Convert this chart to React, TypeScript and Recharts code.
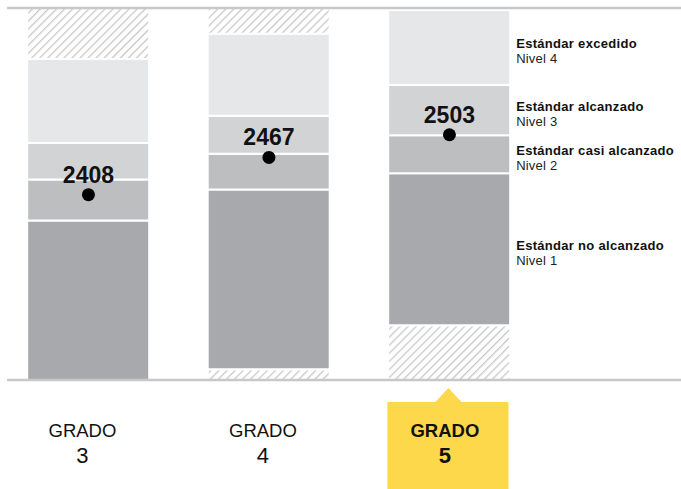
import { ComposedChart, Bar, XAxis, YAxis, Scatter, ReferenceLine, LabelList } from 'recharts';

const grades = [3, 4, 5];
const highlightGrade = 5;
const scaleMin = 2114;
const scaleMax = 2704;
const rangeMin = [2114, 2131, 2201];
const level2Cut = [2367, 2416, 2442];
const level3Cut = [2432, 2473, 2502];
const level4Cut = [2490, 2533, 2582];
const rangeMax = [2623, 2663, 2701];
const meanScores = [2408, 2467, 2503];
const levelNames = ['Estándar no alcanzado', 'Estándar casi alcanzado', 'Estándar alcanzado', 'Estándar excedido'];
const levelTags = ['Nivel 1', 'Nivel 2', 'Nivel 3', 'Nivel 4'];

const FONT = '"Liberation Sans", Arial, sans-serif';
const HATCH = 'url(#hatch)';

// stacked from the bottom of the scale upward
const data = grades.map((grade, i) => ({
  grade,
  hatchLow: rangeMin[i] - scaleMin,
  l1: level2Cut[i] - rangeMin[i],
  l2: level3Cut[i] - level2Cut[i],
  l3: level4Cut[i] - level3Cut[i],
  l4: rangeMax[i] - level4Cut[i],
  hatchHigh: scaleMax - rangeMax[i],
  score: meanScores[i] - scaleMin,
  mean: meanScores[i],
}));

const segments = [
  { key: 'hatchLow', fill: HATCH, level: -1 },
  { key: 'l1', fill: '#a7a9ac', level: 0 },
  { key: 'l2', fill: '#bcbec0', level: 1 },
  { key: 'l3', fill: '#d1d3d4', level: 2 },
  { key: 'l4', fill: '#e6e7e8', level: 3 },
  { key: 'hatchHigh', fill: HATCH, level: -1 },
];

const highlightIndex = grades.indexOf(highlightGrade);

function LevelLabel(props: any) {
  const { x, y, width, height, index, level } = props;
  if (index !== highlightIndex) return null;
  const cy = y + height / 2 + 1;
  const tx = x + width + 6;
  return (
    <g>
      <text x={tx} y={cy} fontFamily={FONT} fontSize={13} fontWeight="bold" fill="#111" letterSpacing={0.3}>
        {levelNames[level]}
      </text>
      <text x={tx} y={cy + 15} fontFamily={FONT} fontSize={13} fill="#222" letterSpacing={0.2}>
        {levelTags[level]}
      </text>
    </g>
  );
}

function ScoreDot(props: any) {
  const { cx, cy, payload } = props;
  return (
    <g>
      <circle cx={cx} cy={cy} r={6.5} fill="#000" />
      <text x={cx} y={cy - 12} textAnchor="middle" fontFamily={FONT} fontSize={23} fontWeight="bold" fill="#111">
        {payload.mean}
      </text>
    </g>
  );
}

function GradeTick(props: any) {
  const { x, y, payload } = props;
  const active = payload.value === highlightGrade;
  return (
    <g>
      {active && (
        <path
          d={`M${x - 62} ${y + 22} L${x - 14} ${y + 22} L${x - 1} ${y + 8} L${x + 12} ${y + 22} L${x + 59} ${y + 22} L${x + 59} ${y + 112} L${x - 62} ${y + 112} Z`}
          fill="#fcd84a"
        />
      )}
      <text x={x - (active ? 4.5 : 6)} y={y + 57} textAnchor="middle" fontFamily={FONT} fontSize={18.5} fontWeight={active ? 'bold' : 'normal'} fill="#111">
        GRADO
      </text>
      <text x={x - (active ? 4.5 : 6)} y={y + 82.5} textAnchor="middle" fontFamily={FONT} fontSize={22} fontWeight={active ? 'bold' : 'normal'} fill="#111">
        {payload.value}
      </text>
    </g>
  );
}

export default function App() {
  return (
    <div style={{ position: 'absolute', left: 0, top: 0, width: 681, height: 489, background: '#fff' }}>
      <ComposedChart width={681} height={489} data={data} margin={{ top: 8, right: 0, bottom: 9, left: 0 }}>
        <defs>
          <pattern id="hatch" width={5.7} height={5.7} patternUnits="userSpaceOnUse" patternTransform="rotate(45)">
            <rect width={5.7} height={5.7} fill="#fff" />
            <line x1={0} y1={0} x2={0} y2={5.7} stroke="#c8c8c8" strokeWidth={2.6} />
          </pattern>
        </defs>
        <XAxis
          type="number"
          dataKey="grade"
          domain={[2.51, 6.283]}
          allowDataOverflow
          ticks={grades}
          axisLine={false}
          tickLine={false}
          tickSize={0}
          tickMargin={0}
          height={100}
          interval={0}
          tick={<GradeTick />}
        />
        <YAxis hide domain={[0, scaleMax - scaleMin]} allowDataOverflow />
        {segments.map((s) => (
          <Bar key={s.key} dataKey={s.key} stackId="range" fill={s.fill} stroke="#fff" strokeWidth={2} barSize={122} isAnimationActive={false}>
            {s.level >= 0 && <LabelList dataKey={s.key} content={<LevelLabel level={s.level} />} />}
          </Bar>
        ))}
        <ReferenceLine
          segment={[{ x: 2.549, y: scaleMax - scaleMin }, { x: 6.283, y: scaleMax - scaleMin }]}
          stroke="#c8c8c8"
          strokeWidth={2.5}
          ifOverflow="visible"
        />
        <ReferenceLine
          segment={[{ x: 2.549, y: 0 }, { x: 6.283, y: 0 }]}
          stroke="#c8c8c8"
          strokeWidth={2.5}
          ifOverflow="visible"
        />
        <Scatter dataKey="score" shape={<ScoreDot />} isAnimationActive={false} />
      </ComposedChart>
    </div>
  );
}
